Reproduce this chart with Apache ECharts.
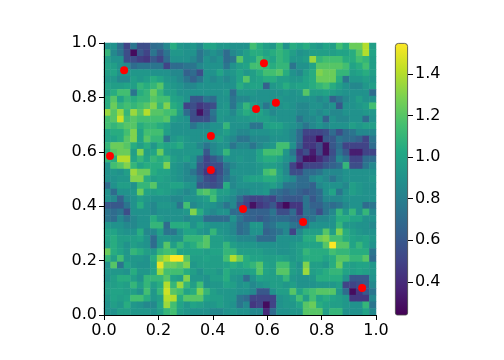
<!DOCTYPE html>
<html><head><meta charset="utf-8">
<style>html,body{margin:0;padding:0;background:#fff}#c{width:504px;height:360px}</style>
<script src="https://cdn.jsdelivr.net/npm/echarts@6/dist/echarts.min.js"></script></head>
<body><div id="c"></div>
<script>
const row00=[.9,.9,.72,.5,.75,.55,.55,.7,.72,.85,1.05,.93,.9,.93,.85,1.0,1.0,.93,.93,.9,.9,.9,1.15,1.05,.97,.93,1.1,.9,1.05,1.0,1.05,.97,.93,1.0,.97,1.15,1.05,1.25,1.25,1.4,.97];
const row01=[1.1,.85,.75,.55,.28,.6,.5,.75,.6,.75,.93,.93,.9,.9,.75,.85,.9,.85,.7,.85,.9,.97,1.05,1.05,1.0,1.05,1.1,1.05,.97,.9,.93,.97,.97,.97,.97,1.0,1.0,1.05,1.2,1.4,1.0];
const row02=[.97,.9,.9,.55,.55,.48,.45,.6,.5,.7,.9,.9,.9,.85,.75,.9,.85,.9,.7,.75,1.2,.97,1.0,1.15,1.05,1.0,1.1,1.05,.93,.93,.97,1.35,1.1,1.15,1.15,1.15,1.05,1.05,1.15,1.1,.97];
const row03=[1.0,.97,.9,.85,.7,.75,.75,.75,.75,.5,.7,.7,.75,.75,.85,.9,.9,.9,.75,.9,.97,1.0,1.15,1.15,1.1,1.05,1.1,1.1,.75,.9,.9,1.0,1.2,1.2,1.2,1.2,1.15,1.0,1.05,1.15,.97];
const row04=[.97,1.0,.9,.9,.93,.93,.93,.9,.9,.9,.85,.85,.65,.7,.55,.9,.9,1.0,.9,.93,1.0,.93,.97,1.05,1.15,1.15,1.2,1.05,.9,.85,.97,1.05,1.3,1.25,1.25,1.1,1.1,.97,1.0,1.05,.97];
const row05=[.93,.93,.85,.85,.97,.93,.97,1.05,1.0,.93,.9,.85,.75,.65,.75,.9,.85,.9,.85,.9,1.0,1.2,.97,1.0,1.05,1.05,.97,.97,.93,.93,1.0,1.05,1.25,1.25,1.25,1.05,.75,.93,.93,.97,.93];
const row06=[1.0,.97,.97,1.0,.97,1.1,1.05,1.1,1.2,.97,.93,.9,.85,.85,.9,.9,.9,.9,.9,.9,1.05,.97,1.0,1.0,.65,.93,.97,1.05,.97,1.0,1.0,1.05,1.1,1.15,1.05,.97,.9,.85,.85,.93,.97];
const row07=[.97,1.05,1.15,1.15,.75,1.05,1.1,1.25,1.1,.97,.97,.9,.9,.9,.9,.9,.9,.9,.93,.7,.93,.93,.93,.9,.9,.9,.9,.93,.9,.93,1.2,.97,.97,1.0,.97,.93,.9,.9,.9,.9,.7];
const row08=[1.05,1.2,1.0,1.1,1.05,1.1,1.1,1.2,1.15,1.15,1.0,.97,.9,.6,.6,.75,.7,.9,.9,.75,.85,.85,.9,.9,.9,.9,.93,.9,.9,.9,.9,.9,.85,.9,.65,.75,.85,.9,.97,.9,.9];
const row09=[1.05,1.25,1.1,1.15,1.1,1.15,1.2,1.3,1.1,1.3,1.05,1.0,.5,.55,.45,.5,.55,.9,.93,.75,.93,1.1,.97,.9,.75,.9,.9,.93,.9,.85,.85,.9,.9,.85,.9,.6,.9,.9,.93,.97,1.15];
const row10=[1.35,1.2,1.35,1.1,1.35,1.2,1.4,1.2,1.2,1.15,1.15,.97,.7,.55,.3,.5,.75,.93,.93,.85,.97,1.05,1.0,1.0,.93,.85,.9,.9,.9,.85,.85,.9,.85,.9,.85,.85,.9,.9,.9,.93,.93];
const row11=[1.15,1.2,1.45,1.15,1.2,1.15,1.15,1.15,1.15,1.2,.97,.93,.9,.55,.55,.55,.7,.93,.9,.9,.93,.93,.97,.97,.97,.93,.9,.9,.9,.75,.85,.85,.9,.65,.9,.85,.85,.9,.9,.7,.9];
const row12=[1.15,1.1,1.15,1.2,1.2,1.05,1.1,1.1,1.05,1.0,.9,.9,.9,.75,.85,.85,.9,.9,1.1,.9,.9,.9,.75,.75,.97,1.0,1.0,.93,.9,.85,.75,.85,.9,.85,.9,.9,.9,.97,.93,.97,.97];
const row13=[1.0,1.05,1.05,1.15,1.3,1.0,1.15,1.15,1.15,.97,.9,.9,.9,.9,.9,.9,.9,.93,.97,.9,.85,.85,.9,.9,.9,.93,.93,.9,.85,.7,.5,.5,.5,.55,.7,.55,.7,.75,.85,.85,.85];
const row14=[1.0,1.0,1.05,1.2,1.3,1.0,1.2,1.1,1.1,.75,.93,.97,.93,.9,.9,.9,.93,.97,.9,.85,.75,.75,.85,.85,.85,.9,.9,.9,.85,.7,.45,.45,.27,.6,.6,.75,.7,.7,.65,.5,.75];
const row15=[1.1,1.25,1.25,1.2,1.05,.97,1.05,.93,1.05,1.0,1.0,1.05,.93,.93,.85,.75,.85,.9,.9,.75,.85,.85,.75,.85,.9,.93,1.15,1.15,.9,.65,.45,.45,.55,.3,.6,.7,.5,.5,.5,.5,.7];
const row16=[1.05,1.2,1.25,1.25,.97,1.3,.97,1.0,1.25,.97,.93,.93,.93,.93,.93,.6,.85,.9,1.1,.9,.9,.9,.9,1.0,1.15,1.15,1.15,.93,.75,.45,.55,.35,.55,.3,.55,.75,.6,.35,.35,.5,.5];
const row17=[1.1,1.05,1.4,1.4,1.0,1.1,1.0,1.1,1.05,1.1,.97,.93,.97,.9,.7,.5,.6,.7,.9,.9,.93,.9,.9,1.0,1.05,1.05,1.0,.9,.85,.5,.3,.3,.4,.5,.6,.85,.75,.5,.5,.7,.7];
const row18=[.9,1.15,1.2,1.3,1.1,1.0,1.05,1.05,1.05,1.3,.93,.9,.85,.9,.6,.5,.55,.55,.75,.85,.9,.9,.9,.93,.97,.97,.93,.85,.5,.35,.5,.5,.5,.6,.65,.7,1.1,.55,.55,.75,.85];
const row19=[.9,.93,.9,.97,1.35,1.25,1.25,1.05,1.0,1.0,.93,.9,.85,.75,.6,.45,.45,.55,.7,.9,.9,.9,.9,.93,1.15,1.2,.97,.85,.55,.55,.7,.7,.75,.85,.85,.85,.9,.9,.9,.9,.9];
const row20=[.9,.9,.93,.93,1.3,1.3,1.05,.97,1.0,.97,.93,.9,.85,.85,.7,.55,.5,.6,.75,.85,.9,.97,1.0,1.0,1.05,1.05,.97,.9,.85,.7,.7,.85,.9,.85,.75,.85,.9,.9,.9,.9,.93];
const row21=[.7,.9,.97,.97,.9,1.1,1.1,1.2,.97,.97,1.0,1.0,.93,.9,.6,.6,.55,.6,1.05,.85,.9,.9,.9,.9,.93,.97,.9,.75,.75,.7,.7,.65,.85,.9,.9,.9,.85,.97,.93,.9,.9];
const row22=[.9,.7,.9,.9,.93,1.25,1.0,.97,1.0,.97,.93,.9,.85,.9,1.15,1.2,1.1,.97,.97,.9,.85,.85,.9,.9,.93,.75,.7,.65,.7,.65,.6,.65,.7,.9,1.0,.75,.9,.97,.93,.9,.9];
const row23=[.9,.85,.65,.85,.9,.97,.93,.9,.9,.9,.85,.85,.9,.9,.93,.97,1.15,.93,.9,.85,.7,.55,.5,.5,.55,.5,.65,.6,.6,.6,.75,.6,.7,.85,.85,.85,.9,.9,.9,.9,.9];
const row24=[.6,.6,.6,.75,.9,1.05,.9,.85,.93,.93,.9,.75,1.15,.85,.9,.93,.9,.85,.75,.85,.6,.5,.3,.45,.5,.6,.4,.27,.45,.45,.75,.65,.65,.75,.7,.75,.85,.9,.9,.7,.75];
const row25=[.75,.7,.75,.55,.9,.9,.9,.85,.9,.9,.9,.9,.93,1.3,1.05,.9,.85,.9,.9,.7,.7,.65,.65,.65,.65,.75,.55,.55,.7,.45,.75,.7,.55,.75,.85,1.1,.93,1.1,.9,1.1,.85];
const row26=[.75,.7,.85,.75,.85,.9,.9,1.05,.93,.9,.9,.9,.85,.9,.9,.7,.7,.7,.7,.9,.75,.65,.65,.6,.65,.7,.7,.7,.65,.6,.7,.75,.85,.85,.9,1.05,1.05,1.0,1.0,.9,.9];
const row27=[.93,.9,.9,.85,.85,.9,.9,1.1,1.1,.7,1.05,1.05,1.05,.9,1.0,.93,.9,.9,.9,.85,.7,.75,.93,.93,.7,.75,.85,.85,.75,.7,.75,.9,.9,.9,.9,1.1,.93,.93,.9,.9,.85];
const row28=[1.0,1.0,.93,.9,.9,1.05,.85,.85,.97,.75,.75,.9,1.0,1.0,.93,.9,1.1,.93,.9,.85,.7,.75,.9,.9,.65,.7,.75,.85,.5,.85,.97,.97,.97,1.2,.97,1.3,1.05,.97,.93,.9,.9];
const row29=[1.0,1.05,.97,.97,.97,1.0,.9,.7,.93,.93,.9,.9,1.1,1.1,1.1,1.2,.97,.97,.93,.9,.85,.85,.85,.7,.7,.7,.9,.9,.9,.9,1.05,1.05,1.25,1.3,1.15,1.15,1.05,1.0,.97,1.0,.93];
const row30=[.97,1.05,.97,.9,.97,.93,.9,.7,.93,1.2,.97,1.1,1.0,1.05,1.15,1.2,.97,.97,1.1,.97,.93,.93,.93,.9,.9,.9,.9,.9,.93,.97,1.0,1.0,1.0,1.2,1.55,1.2,1.2,1.0,1.1,1.0,.9];
const row31=[1.25,1.05,1.0,.93,1.1,1.05,.97,.93,1.1,1.15,1.15,1.0,1.0,1.0,1.0,.97,1.0,1.0,1.1,1.1,.97,.97,.97,.97,.93,.93,.9,.9,.93,.97,1.1,1.05,1.05,1.05,1.15,1.1,1.1,1.05,1.05,1.05,.75];
const row32=[1.1,.97,1.15,.93,.93,.93,.9,1.05,1.3,1.4,1.55,1.55,1.2,.97,.97,1.0,.97,.97,1.15,1.4,1.25,1.05,1.0,1.0,.97,.97,1.0,.97,.93,.97,1.05,1.05,1.05,1.0,1.05,1.2,1.2,1.1,1.1,1.2,.7];
const row33=[.9,1.2,.75,1.0,.93,.9,.9,1.0,1.5,1.25,1.25,1.2,1.3,.93,.97,.97,.97,.97,1.0,1.05,1.0,1.05,1.1,1.2,1.0,.97,1.15,1.15,.97,.9,1.3,.97,.97,.93,1.05,1.25,1.0,.97,1.0,1.0,.93];
const row34=[.93,.93,.93,.9,1.05,.93,.93,1.0,1.35,1.15,1.15,1.15,1.05,.97,.9,.97,.97,.93,1.05,.97,.97,.97,1.0,1.2,1.0,.97,1.2,1.2,.97,.93,1.35,.97,1.0,1.05,1.1,1.1,1.0,.97,1.0,.97,.93];
const row35=[.9,.97,1.05,1.05,.97,.9,1.1,1.1,1.1,1.2,1.0,.97,1.3,.93,.93,.9,.97,.97,1.05,.93,.9,.7,.9,1.0,.97,.97,.97,1.1,.93,.9,.9,.93,1.05,1.05,1.05,1.05,.9,.6,.6,.6,.9];
const row36=[.97,.97,1.0,.97,1.1,.97,1.1,.97,1.05,1.4,1.1,1.35,1.1,.97,1.15,.9,.93,.93,1.0,.97,.9,.93,.85,.9,.93,.97,.97,.93,.97,.9,.9,.9,.93,.93,.93,.97,.5,.5,.55,.6,.85];
const row37=[.97,1.0,1.0,.97,.97,.9,1.15,.93,1.1,1.45,1.2,1.15,1.0,1.05,1.3,1.1,.97,.93,.93,.93,.9,.9,.85,.6,.6,.9,.97,.97,1.2,1.0,1.1,1.15,1.2,1.2,1.2,.93,.7,.28,.45,.6,.75];
const row38=[.93,1.0,.97,1.0,1.15,1.15,1.05,.93,.97,1.4,1.4,1.05,1.2,1.2,1.2,1.0,.97,.97,.93,.93,.75,.7,.5,.5,.5,.5,.9,.93,.97,1.15,.97,1.15,1.0,1.05,1.0,.97,.93,.45,.45,.45,.85];
const row39=[.9,.97,.93,1.05,.93,.9,.85,.85,1.0,1.35,1.15,1.0,.93,1.0,.97,.93,.93,.97,.93,.9,.75,.85,.45,.5,.28,.5,.9,.93,.93,1.0,1.2,1.25,1.05,1.0,.97,.97,.93,.9,.9,1.1,.75];
const row40=[.9,.9,.97,.97,.93,.93,.93,.9,.97,1.1,1.15,.97,.93,.9,.9,.9,.85,.85,.9,.93,.9,.9,.85,.85,.4,.7,.9,.9,.93,.93,1.2,1.2,1.2,.97,1.1,1.1,.9,.9,.9,1.0,.85];
const rows=[row00,row01,row02,row03,row04,row05,row06,row07,row08,row09,row10,row11,row12,row13,row14,row15,row16,row17,row18,row19,row20,row21,row22,row23,row24,row25,row26,row27,row28,row29,row30,row31,row32,row33,row34,row35,row36,row37,row38,row39,row40];
const pointsX=[.074,.588,.559,.632,.393,.022,.393,.511,.732,.949];
const pointsY=[.90,.926,.757,.78,.658,.585,.533,.39,.342,.099];
const cbTicks=[.4,.6,.8,1,1.2,1.4];
const cbMin=.24,cbMax=1.55;
const viridis=['#440154','#482475','#414487','#355f8d','#2a788e','#21918c','#22a884','#44bf70','#7ad151','#bddf26','#fde725'];

const heat=[];rows.forEach((r,y)=>r.forEach((v,x)=>heat.push([x,y,v])));
const cats=rows.map((_,i)=>String(i));
const G={left:104,top:43,width:272,height:272};
const font={fontFamily:'DejaVu Sans',fontSize:16,color:'#000'};
const line={lineStyle:{color:'#000',width:1}};
const chart=echarts.init(document.getElementById('c'),null,{renderer:'canvas'});
chart.setOption({
  animation:false,backgroundColor:'#fff',
  grid:[G,G,{left:395,top:43,width:13,height:272}],
  xAxis:[
    {type:'category',gridIndex:0,data:cats,show:false},
    {type:'value',gridIndex:1,min:0,max:1,interval:.2,position:'bottom',z:5,splitLine:{show:false},axisLine:{show:true,...line},axisTick:{show:true,length:5,...line},axisLabel:{...font,margin:8,showMinLabel:true,showMaxLabel:true,hideOverlap:false,formatter:v=>v.toFixed(1)}},
    {type:'value',gridIndex:1,min:0,max:1,position:'top',z:5,splitLine:{show:false},axisLine:{show:true,...line},axisTick:{show:false},axisLabel:{show:false}},
    {type:'category',gridIndex:2,data:['c'],show:false}
  ],
  yAxis:[
    {type:'category',gridIndex:0,data:cats,inverse:true,show:false},
    {type:'value',gridIndex:1,min:0,max:1,interval:.2,position:'left',z:5,splitLine:{show:false},axisLine:{show:true,...line},axisTick:{show:true,length:5,...line},axisLabel:{...font,margin:7,padding:[3,0,0,0],showMinLabel:true,showMaxLabel:true,hideOverlap:false,formatter:v=>v.toFixed(1)}},
    {type:'value',gridIndex:1,min:0,max:1,position:'right',z:5,splitLine:{show:false},axisLine:{show:true,...line},axisTick:{show:false},axisLabel:{show:false}},
    {type:'value',gridIndex:2,min:cbMin,max:cbMax,position:'right',z:5,splitLine:{show:false},axisLine:{show:false},axisTick:{show:true,length:5,...line,customValues:cbTicks},axisLabel:{...font,margin:7,padding:[3,0,0,0],customValues:cbTicks,formatter:v=>v.toFixed(1)}}
  ],
  visualMap:{show:false,seriesIndex:0,min:cbMin,max:cbMax,dimension:2,inRange:{color:viridis}},
  series:[
    {type:'heatmap',xAxisIndex:0,yAxisIndex:0,data:heat,progressive:0,silent:true,z:2,itemStyle:{borderWidth:0}},
    {type:'scatter',xAxisIndex:1,yAxisIndex:1,data:pointsX.map((x,i)=>[x,pointsY[i]]),symbolSize:8,itemStyle:{color:'#ff0000',opacity:1},silent:true,z:4},
    {type:'bar',xAxisIndex:3,yAxisIndex:3,data:[cbMax],barWidth:'100%',silent:true,z:3,
     itemStyle:{borderRadius:[3,3,2,2],borderColor:'#444',borderWidth:.8,color:new echarts.graphic.LinearGradient(0,1,0,0,viridis.map((c,i)=>({offset:i/10,color:c})))}}
  ]
});
</script></body></html>
